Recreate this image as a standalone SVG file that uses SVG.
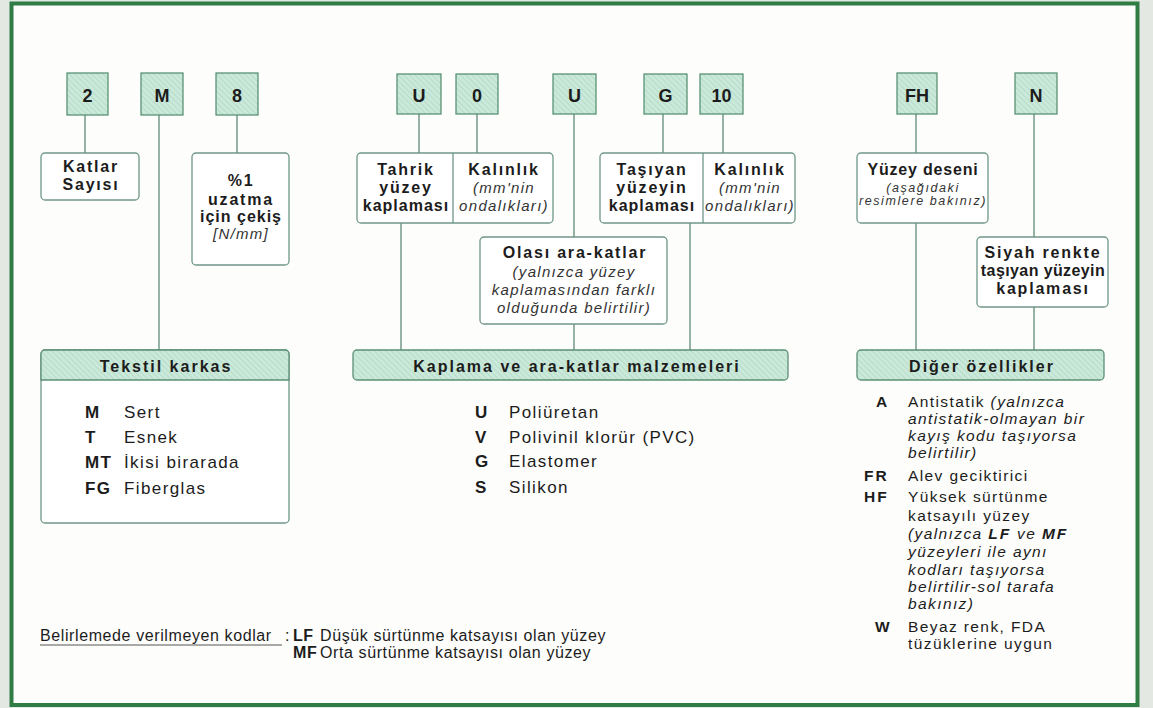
<svg xmlns="http://www.w3.org/2000/svg" width="1153" height="708" viewBox="0 0 1153 708">
<defs>
<pattern id="hatch" width="4" height="4" patternUnits="userSpaceOnUse" patternTransform="rotate(-45)">
<rect width="4" height="4" fill="#cbe9da"/>
<line x1="0" y1="0" x2="0" y2="4" stroke="#a9d4bf" stroke-width="1.3"/>
</pattern>
<style>
text{font-family:"Liberation Sans",Arial,sans-serif;fill:#1c1c1c}
.code rect{fill:url(#hatch);stroke:#4f8a6c;stroke-width:1.2}
.code text{font-size:18px;font-weight:bold;text-anchor:middle}
.box{fill:#fff;stroke:#6f978a;stroke-width:1.3}
.b{font-size:16px;font-weight:bold;letter-spacing:1.8px;text-anchor:middle}
.i{font-size:15px;font-style:italic;letter-spacing:1.3px;text-anchor:middle;fill:#333}
.bar{fill:url(#hatch);stroke:#5c8f75;stroke-width:1.3}
.bt{font-size:16px;font-weight:bold;letter-spacing:2px;text-anchor:middle}
.li{font-size:17px;letter-spacing:1.4px}
.lc{font-size:17px;font-weight:bold;letter-spacing:1.4px}
.di{font-size:15.5px;letter-spacing:1.4px}
.dc{font-size:15.5px;font-weight:bold;letter-spacing:2px}
.it{font-style:italic}
.bi{font-weight:bold;font-style:italic}
.conn line{stroke:#5f8b78;stroke-width:1.3}
.lg{font-size:16px;letter-spacing:0.6px}
</style>
</defs>
<rect x="0" y="0" width="1153" height="708" fill="#e3e8e3"/>
<rect x="11.5" y="3.5" width="1126" height="701.5" fill="#fdfdfb" stroke="#2f7d45" stroke-width="4"/>

<g id="connectors" class="conn">
<line x1="85" y1="115" x2="85" y2="153"/>
<line x1="159" y1="115" x2="159" y2="350"/>
<line x1="237" y1="115" x2="237" y2="153"/>
<line x1="419" y1="114" x2="419" y2="153"/>
<line x1="477" y1="114" x2="477" y2="153"/>
<line x1="574" y1="114" x2="574" y2="237"/>
<line x1="574" y1="324" x2="574" y2="350"/>
<line x1="663" y1="114" x2="663" y2="153"/>
<line x1="723" y1="114" x2="723" y2="153"/>
<line x1="401" y1="223" x2="401" y2="350"/>
<line x1="690" y1="223" x2="690" y2="350"/>
<line x1="916" y1="114" x2="916" y2="153"/>
<line x1="916" y1="223" x2="916" y2="350"/>
<line x1="1034" y1="114" x2="1034" y2="237"/>
<line x1="1034" y1="307" x2="1034" y2="350"/>
</g>

<g id="code-2" class="code"><rect x="67" y="73" width="41" height="42"/><text x="87.5" y="102">2</text></g>
<g id="code-M" class="code"><rect x="141" y="73" width="42" height="42"/><text x="162" y="102">M</text></g>
<g id="code-8" class="code"><rect x="216" y="73" width="42" height="42"/><text x="237" y="102">8</text></g>
<g id="code-U1" class="code"><rect x="397" y="74" width="44" height="40"/><text x="419" y="102">U</text></g>
<g id="code-0" class="code"><rect x="456" y="74" width="42" height="40"/><text x="477" y="102">0</text></g>
<g id="code-U2" class="code"><rect x="553" y="74" width="43" height="40"/><text x="574.5" y="102">U</text></g>
<g id="code-G" class="code"><rect x="644" y="74" width="43" height="40"/><text x="665.5" y="102">G</text></g>
<g id="code-10" class="code"><rect x="700" y="74" width="43" height="40"/><text x="721.5" y="102">10</text></g>
<g id="code-FH" class="code"><rect x="897" y="73" width="40" height="41"/><text x="917" y="102">FH</text></g>
<g id="code-N" class="code"><rect x="1015" y="73" width="42" height="41"/><text x="1036" y="102">N</text></g>

<g id="katlar">
<rect class="box" x="41" y="153" width="98" height="47" rx="4"/>
<text class="b" x="91" y="172">Katlar</text>
<text class="b" x="91" y="190">Sayısı</text>
</g>
<g id="uzatma">
<rect class="box" x="192" y="153" width="97" height="112" rx="4"/>
<text class="b" x="241" y="186">%1</text>
<text class="b" x="241" y="205">uzatma</text>
<text class="b" x="241" y="222" style="letter-spacing:1px">için çekiş</text>
<text class="i" x="241" y="239">[N/mm]</text>
</g>
<g id="tahrik">
<rect class="box" x="357" y="153" width="196" height="70" rx="4"/>
<line x1="453" y1="153" x2="453" y2="223" stroke="#6f978a" stroke-width="1.3"/>
<text class="b" x="406" y="175">Tahrik</text>
<text class="b" x="406" y="193">yüzey</text>
<text class="b" x="406" y="211" style="letter-spacing:1px">kaplaması</text>
<text class="b" x="504" y="175">Kalınlık</text>
<text class="i" x="504" y="193">(mm'nin</text>
<text class="i" x="504" y="211">ondalıkları)</text>
</g>
<g id="tasiyan">
<rect class="box" x="600" y="153" width="195" height="70" rx="4"/>
<line x1="703" y1="153" x2="703" y2="223" stroke="#6f978a" stroke-width="1.3"/>
<text class="b" x="652" y="175">Taşıyan</text>
<text class="b" x="652" y="193">yüzeyin</text>
<text class="b" x="652" y="211" style="letter-spacing:1px">kaplaması</text>
<text class="b" x="750" y="175">Kalınlık</text>
<text class="i" x="750" y="193">(mm'nin</text>
<text class="i" x="750" y="211">ondalıkları)</text>
</g>
<g id="olasi">
<rect class="box" x="480" y="237" width="187" height="87" rx="4"/>
<text class="b" x="575" y="258">Olası ara-katlar</text>
<text class="i" x="574" y="277">(yalnızca yüzey</text>
<text class="i" x="574" y="295">kaplamasından farklı</text>
<text class="i" x="574" y="313">olduğunda belirtilir)</text>
</g>
<g id="yuzey-deseni">
<rect class="box" x="857" y="153" width="131" height="70" rx="4"/>
<text class="b" x="923" y="175" style="letter-spacing:0.8px">Yüzey deseni</text>
<text class="i" x="923" y="192" style="font-size:12.5px;letter-spacing:1.6px">(aşağıdaki</text>
<text class="i" x="923" y="205" style="font-size:12.5px;letter-spacing:1.6px">resimlere bakınız)</text>
</g>
<g id="siyah">
<rect class="box" x="977" y="237" width="131" height="70" rx="4"/>
<text class="b" x="1043" y="258">Siyah renkte</text>
<text class="b" x="1043" y="276" style="letter-spacing:0.4px">taşıyan yüzeyin</text>
<text class="b" x="1043" y="294">kaplaması</text>
</g>

<g id="tekstil">
<rect class="box" x="41" y="350" width="248" height="173" rx="4"/>
<path class="bar" d="M41,380 V354 A4,4 0 0 1 45,350 H285 A4,4 0 0 1 289,354 V380 Z"/>
<text class="bt" x="166" y="372">Tekstil karkas</text>
<text class="lc" x="85" y="418">M</text><text class="li" x="124" y="418">Sert</text>
<text class="lc" x="85" y="443">T</text><text class="li" x="124" y="443">Esnek</text>
<text class="lc" x="85" y="468">MT</text><text class="li" x="124" y="468">İkisi birarada</text>
<text class="lc" x="85" y="494">FG</text><text class="li" x="124" y="494">Fiberglas</text>
</g>
<g id="kaplama">
<rect class="bar" x="353" y="350" width="435" height="30" rx="4"/>
<text class="bt" x="577" y="372">Kaplama ve ara-katlar malzemeleri</text>
<text class="lc" x="475" y="418">U</text><text class="li" x="509" y="418">Poliüretan</text>
<text class="lc" x="475" y="443">V</text><text class="li" x="509" y="443">Polivinil klorür (PVC)</text>
<text class="lc" x="475" y="467">G</text><text class="li" x="509" y="467">Elastomer</text>
<text class="lc" x="475" y="493">S</text><text class="li" x="509" y="493">Silikon</text>
</g>
<g id="diger">
<rect class="bar" x="857" y="350" width="247" height="30" rx="4"/>
<text class="bt" x="982" y="372">Diğer özellikler</text>
<text class="dc" x="876" y="407">A</text>
<text class="di" x="908" y="407">Antistatik <tspan class="it">(yalnızca</tspan></text>
<text class="di it" x="908" y="424">antistatik-olmayan bir</text>
<text class="di it" x="908" y="441">kayış kodu taşıyorsa</text>
<text class="di it" x="908" y="458">belirtilir)</text>
<text class="dc" x="864" y="481">FR</text>
<text class="di" x="908" y="481">Alev geciktirici</text>
<text class="dc" x="864" y="502">HF</text>
<text class="di" x="908" y="502">Yüksek sürtünme</text>
<text class="di" x="908" y="521">katsayılı yüzey</text>
<text class="di it" x="908" y="539">(yalnızca <tspan class="bi" style="letter-spacing:2px">LF</tspan> ve <tspan class="bi" style="letter-spacing:2px">MF</tspan></text>
<text class="di it" x="908" y="557">yüzeyleri ile aynı</text>
<text class="di it" x="908" y="575">kodları taşıyorsa</text>
<text class="di it" x="908" y="592">belirtilir-sol tarafa</text>
<text class="di it" x="908" y="609">bakınız)</text>
<text class="dc" x="875" y="632">W</text>
<text class="di" x="908" y="632">Beyaz renk, FDA</text>
<text class="di" x="908" y="649">tüzüklerine uygun</text>
</g>

<g id="legend">
<text class="lg" x="40" y="641">Belirlemede verilmeyen kodlar</text>
<line x1="40" y1="645" x2="282" y2="645" stroke="#555" stroke-width="1"/>
<text class="lg" x="285" y="641">:</text>
<text class="lg" x="293" y="641" style="font-weight:bold">LF</text>
<text class="lg" x="320" y="641">Düşük sürtünme katsayısı olan yüzey</text>
<text class="lg" x="293" y="658" style="font-weight:bold">MF</text>
<text class="lg" x="320" y="658">Orta sürtünme katsayısı olan yüzey</text>
</g>
</svg>
